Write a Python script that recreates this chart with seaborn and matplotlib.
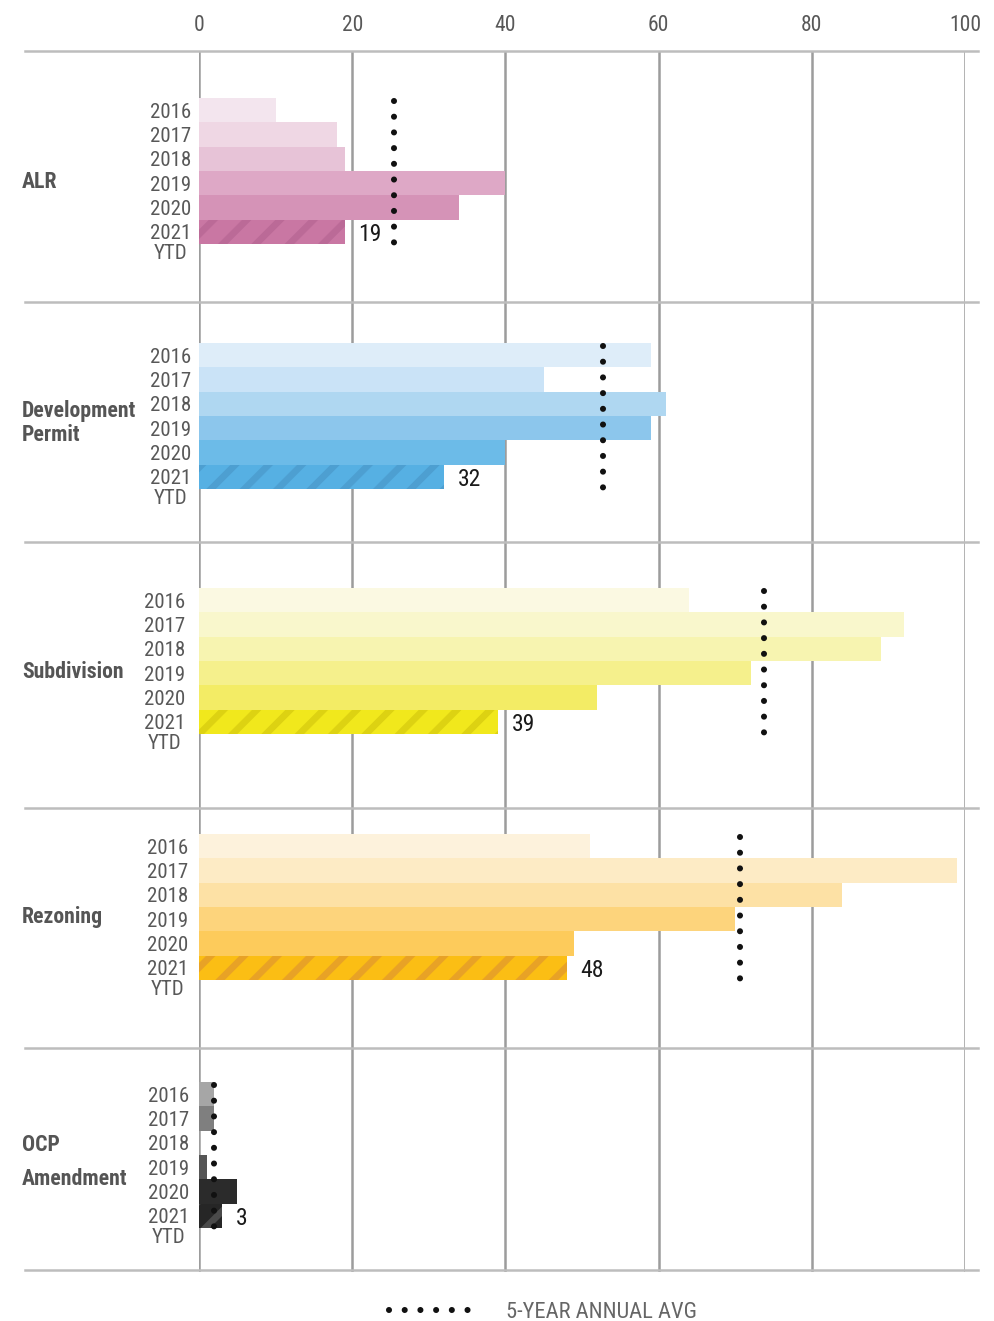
import matplotlib
matplotlib.use('Agg')
import matplotlib.pyplot as plt
from matplotlib.lines import Line2D
import seaborn as sns
import pandas as pd

# ---------------- data ----------------
categories = ['ALR', 'Development\nPermit', 'Subdivision', 'Rezoning', 'OCP\nAmendment']
years = ['2016', '2017', '2018', '2019', '2020', '2021']
ytd_label = 'YTD'
alr = [10, 18, 19, 40, 34, 19]
dev_permit = [59, 45, 61, 59, 40, 32]
subdivision = [64, 92, 89, 72, 52, 39]
rezoning = [51, 99, 84, 70, 49, 48]
ocp_amendment = [2, 2, 0, 1, 5, 3]
five_year_avg = [25.5, 52.8, 73.8, 70.6, 2.0]
x_ticks = [0, 20, 40, 60, 80, 100]
legend_label = '5-YEAR ANNUAL AVG'

series = [alr, dev_permit, subdivision, rezoning, ocp_amendment]

# ---------------- styles ----------------
palettes = [
    ['#f3e5ee', '#efd7e4', '#e7c3d7', '#dea8c6', '#d593b7', '#c977a3'],
    ['#deedf9', '#cae3f7', '#afd7f1', '#8cc6ec', '#6cbbe8', '#56b0e3'],
    ['#fbf9e2', '#f9f7cc', '#f7f4b0', '#f5f08c', '#f3ec65', '#f1e81c'],
    ['#fdf2dc', '#fdebc5', '#fde1a5', '#fdd47c', '#fdcb5b', '#fbbe14'],
    ['#a6a6a6', '#7f7f7f', '#666666', '#555555', '#2b2b2b', '#262626'],
]
hatch_colors = ['#bb6a97', '#4d9fd1', '#ddd212', '#e8a226', '#4a4a4a']

plt.rcParams['font.family'] = ['Roboto Condensed', 'Archivo Narrow', 'DejaVu Sans']
plt.rcParams['hatch.linewidth'] = 4.8

W, H = 995, 1321
DPI = 100
PX2PT = 72 / DPI
X0, X100 = 199, 965
SEP_Y = [51, 302, 542, 808, 1048, 1270]
BLOCK_TOP = [98, 343, 588, 834, 1082]
ROW_H = 24.35
LABEL_RIGHT = [191, 191, 185, 188, 189]
CAT_Y = [182, 423, 672, 917, 1162]
CAT_LS = [1.2, 1.12, 1.2, 1.2, 1.7]
GRAY_TXT = '#585858'

fig = plt.figure(figsize=(W / DPI, H / DPI), dpi=DPI)

# background axis: gridlines and top tick labels
bg = fig.add_axes([X0 / W, 1 - 1272 / H, (X100 - X0) / W, (1272 - SEP_Y[0]) / H])
bg.set_xlim(0, 100)
bg.set_ylim(0, 1)
bg.set_xticks(x_ticks)
bg.set_xticklabels([str(t) for t in x_ticks])
bg.set_yticks([])
bg.xaxis.tick_top()
bg.tick_params(axis='x', length=0, pad=11, labelsize=15.5, labelcolor=GRAY_TXT)
bg.grid(axis='x', color='#9c9c9c', linewidth=1.8)
bg.set_axisbelow(True)
for s in bg.spines.values():
    s.set_visible(False)
bg.patch.set_visible(False)

# separators
for y in SEP_Y:
    fig.add_artist(Line2D([25 / W, 978 / W], [1 - y / H, 1 - y / H],
                          color='#bdbdbd', linewidth=1.8))

DOT_LW = 4.4
GAP_PT = 15.7 * PX2PT
dot_style = (0, (0.001, GAP_PT / DOT_LW))

for i, (cat, vals, pal, hc, avg) in enumerate(zip(categories, series, palettes,
                                                   hatch_colors, five_year_avg)):
    top = BLOCK_TOP[i]
    ax = fig.add_axes([X0 / W, 1 - (top + 6 * ROW_H) / H, (X100 - X0) / W, 6 * ROW_H / H])
    df = pd.DataFrame({'year': years, 'value': vals})
    sns.barplot(data=df, y='year', x='value', hue='year', palette=pal, legend=False,
                orient='h', width=1.0, saturation=1, linewidth=0, ax=ax)
    last = ax.patches[-1]
    last.set_hatch('/')
    last.set_edgecolor(hc)
    last.set_linewidth(0)
    ax.set_xlim(0, 100)
    ax.set_ylim(5.5, -0.5)
    ax.set_xlabel('')
    ax.set_ylabel('')
    ax.set_xticks([])
    pad_px = X0 - LABEL_RIGHT[i]
    ax.tick_params(axis='y', length=0, pad=pad_px * PX2PT, labelsize=15, labelcolor=GRAY_TXT)
    for lab in ax.get_yticklabels():
        lab.set_y(lab.get_position()[1])
    for s in ax.spines.values():
        s.set_visible(False)
    ax.patch.set_visible(False)

    # YTD below 2021
    ax.annotate(ytd_label, xy=(0, 5), xytext=(-(pad_px + 20) * PX2PT, -21.5 * PX2PT),
                textcoords='offset points', ha='center', va='center',
                fontsize=15, color=GRAY_TXT, annotation_clip=False)

    # value label of YTD bar
    ax.annotate(str(vals[-1]), xy=(vals[-1], 5), xytext=(10, -1.5),
                textcoords='offset points', ha='left', va='center',
                fontsize=17, color='#1a1a1a', annotation_clip=False)

    # 5-year average dotted line
    ax.plot([avg, avg], [-0.5 + 3 / ROW_H, 5.5], color='#111111', linewidth=DOT_LW,
            linestyle=dot_style, dash_capstyle='round', clip_on=False)

    # category label
    fig.text(22 / W, 1 - CAT_Y[i] / H, cat, ha='left', va='center', fontsize=15.7,
             fontweight='bold', color='#555555', linespacing=CAT_LS[i])

# legend
handle = Line2D([], [], color='#111111', linewidth=DOT_LW, linestyle=dot_style,
                dash_capstyle='round')
fig.legend(handles=[handle], labels=[legend_label], loc='center left',
           bbox_to_anchor=(389 / W, 1 - 1312 / H), frameon=False,
           fontsize=16.2, labelcolor='#666666', handlelength=3.75, handletextpad=1.45,
           borderpad=0, borderaxespad=0)

fig.savefig('out.png', dpi=DPI)
